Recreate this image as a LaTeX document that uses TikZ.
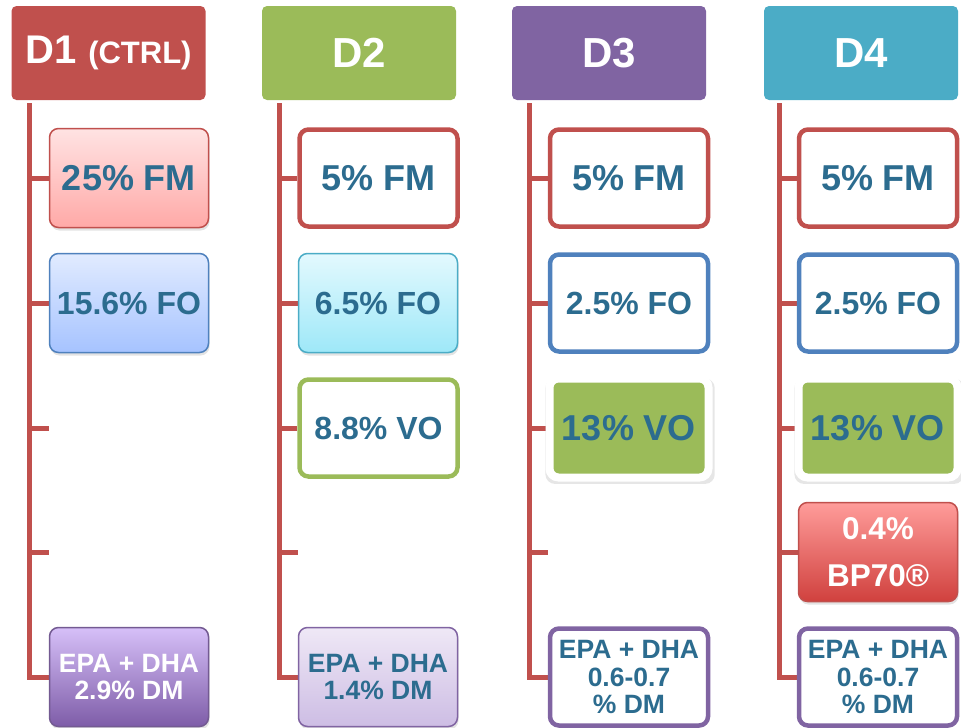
\documentclass[tikz,border=0pt]{standalone}
\usepackage{fontspec}
\setmainfont{Liberation Sans}
\usetikzlibrary{shadows,backgrounds}
\definecolor{cred}{HTML}{C0504D}
\definecolor{cgreen}{HTML}{9BBB59}
\definecolor{cpurple}{HTML}{8064A2}
\definecolor{ccyan}{HTML}{4BACC6}
\definecolor{cblue}{HTML}{4F81BD}
\definecolor{ctext}{RGB}{44,108,143}
\tikzset{
  trunk/.style={draw=cred, line width=5pt, line join=miter},
  hdr/.style={rounded corners=5pt, minimum width=194pt, minimum height=94pt, inner sep=0pt, text=white, font=\bfseries\fontsize{42}{42}\selectfont},
  boxbase/.style={rounded corners=9pt, inner sep=0pt, align=center, text=ctext, font=\bfseries\fontsize{33}{36}\selectfont},
  softbox/.style={boxbase, line width=1.5pt, minimum width=159pt, minimum height=99pt, drop shadow={shadow xshift=1pt, shadow yshift=-3pt, opacity=0.22}},
  thickbox/.style={boxbase, line width=4.5pt, fill=white, minimum width=158pt, minimum height=97pt},
  greenbox/.style={boxbase, fill=cgreen, draw=white, line width=8pt, minimum width=159pt, minimum height=99pt, drop shadow={shadow scale=1.065, shadow xshift=1pt, shadow yshift=-3pt, opacity=0.2}},
  big/.style={font=\bfseries\fontsize{36}{36}\selectfont},
  mid/.style={font=\bfseries\fontsize{32}{32}\selectfont},
  small/.style={font=\bfseries\fontsize{26.5}{27.5}\selectfont},
}
\begin{document}
\begin{tikzpicture}[x=1pt,y=-1pt]
\useasboundingbox (0,0) rectangle (961,728);

% headers
\node[hdr, fill=cred] (h1) at (108.5,53) {{\fontsize{40}{40}\selectfont D1} {\fontsize{31}{31}\selectfont (CTRL)}};
\node[hdr, fill=cgreen] (h2) at (359,53) {D2};
\node[hdr, fill=cpurple] (h3) at (609,53) {D3};
\node[hdr, fill=ccyan] (h4) at (861,53) {D4};

% D1 column
\node[softbox, big, draw=cred, top color={rgb,255:red,255;green,227;blue,227}, bottom color={rgb,255:red,255;green,169;blue,167}] (n11) at (129,178) {25\% FM};
\node[softbox, mid, draw=cblue, top color={rgb,255:red,225;green,235;blue,255}, bottom color={rgb,255:red,166;green,195;blue,255}] (n12) at (129,303) {15.6\% FO};
\node[softbox, small, text=white, draw=cpurple!90!black, top color={rgb,255:red,214;green,192;blue,248}, bottom color={rgb,255:red,126;green,92;blue,168}] (n15) at (129,677) {EPA + DHA\\2.9\% DM};
\coordinate (e13) at (49,428);
\coordinate (e14) at (49,552);

% D2 column
\node[thickbox, big, draw=cred] (n21) at (378.5,178) {5\% FM};
\node[softbox, mid, draw=ccyan, top color={rgb,255:red,227;green,249;blue,254}, bottom color={rgb,255:red,158;green,232;blue,248}] (n22) at (378,303) {6.5\% FO};
\node[thickbox, mid, draw=cgreen] (n23) at (378.5,428) {8.8\% VO};
\node[softbox, small, draw=cpurple, top color={rgb,255:red,239;green,232;blue,246}, bottom color={rgb,255:red,205;green,189;blue,228}] (n25) at (378,677) {EPA + DHA\\1.4\% DM};
\coordinate (e24) at (298,552);

% D3 column
\node[thickbox, big, draw=cred] (n31) at (629,178) {5\% FM};
\node[thickbox, mid, draw=cblue] (n32) at (629,303) {2.5\% FO};
\node[greenbox, big] (n33) at (629,428) {13\% VO};
\node[thickbox, small, draw=cpurple] (n35) at (629,677) {EPA + DHA\\0.6-0.7\\\% DM};
\coordinate (e34) at (548,552);

% D4 column
\node[thickbox, big, draw=cred] (n41) at (878,178) {5\% FM};
\node[thickbox, mid, draw=cblue] (n42) at (878,303) {2.5\% FO};
\node[greenbox, big] (n43) at (878,428) {13\% VO};
\node[softbox, text=white, draw=cred, font=\bfseries\fontsize{31.5}{47}\selectfont, top color={rgb,255:red,255;green,156;blue,154}, bottom color={rgb,255:red,208;green,65;blue,62}] (n44) at (878,552) {0.4\%\\BP70®};
\node[thickbox, small, draw=cpurple] (n45) at (878,677) {EPA + DHA\\0.6-0.7\\\% DM};

% trunks and branches
\coordinate (t1) at (29,103);
\coordinate (t2) at (279.5,103);
\coordinate (t3) at (529,103);
\coordinate (t4) at (779,103);
\begin{pgfonlayer}{background}
\draw[trunk] (t1) -- (t1 |- n15.west) -- (n15.west);
\draw[trunk] (n11.west -| t1) -- (n11.west);
\draw[trunk] (n12.west -| t1) -- (n12.west);
\draw[trunk] (e13 -| t1) -- (e13);
\draw[trunk] (e14 -| t1) -- (e14);

\draw[trunk] (t2) -- (t2 |- n25.west) -- (n25.west);
\draw[trunk] (n21.west -| t2) -- (n21.west);
\draw[trunk] (n22.west -| t2) -- (n22.west);
\draw[trunk] (n23.west -| t2) -- (n23.west);
\draw[trunk] (e24 -| t2) -- (e24);

\draw[trunk] (t3) -- (t3 |- n35.west) -- (n35.west);
\draw[trunk] (n31.west -| t3) -- (n31.west);
\draw[trunk] (n32.west -| t3) -- (n32.west);
\draw[trunk] (n33.west -| t3) -- (n33.west);
\draw[trunk] (e34 -| t3) -- (e34);

\draw[trunk] (t4) -- (t4 |- n45.west) -- (n45.west);
\draw[trunk] (n41.west -| t4) -- (n41.west);
\draw[trunk] (n42.west -| t4) -- (n42.west);
\draw[trunk] (n43.west -| t4) -- (n43.west);
\draw[trunk] (n44.west -| t4) -- (n44.west);
\end{pgfonlayer}
\end{tikzpicture}
\end{document}
